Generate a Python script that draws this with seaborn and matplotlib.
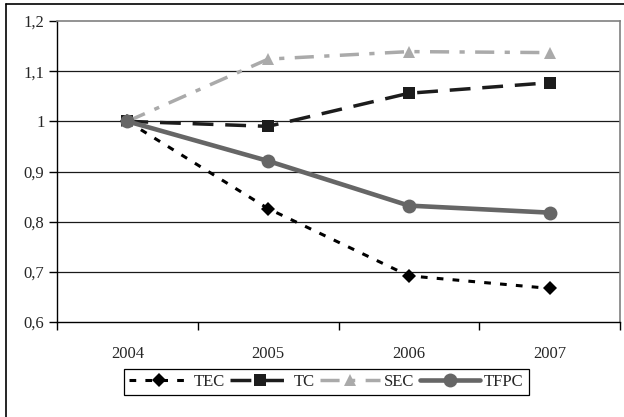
import matplotlib
matplotlib.use("Agg")
import matplotlib.pyplot as plt
from matplotlib.lines import Line2D
import seaborn as sns
import pandas as pd

years = [2004, 2005, 2006, 2007]
tec = [1.0, 0.826, 0.692, 0.667]
tc = [1.0, 0.990, 1.056, 1.077]
sec = [1.0, 1.124, 1.139, 1.137]
tfpc = [1.0, 0.921, 0.832, 0.818]
y_ticks = [0.6, 0.7, 0.8, 0.9, 1.0, 1.1, 1.2]
y_labels = ["0,6", "0,7", "0,8", "0,9", "1", "1,1", "1,2"]

sns.set_theme(style="white")
plt.rcParams['font.family'] = ['Liberation Serif', 'DejaVu Serif']
plt.rcParams['font.size'] = 12

W, H = 624, 417
fig = plt.figure(figsize=(W / 100, H / 100), dpi=100)
ax = fig.add_axes([57 / W, 1 - 322 / H, (620 - 57) / W, (322 - 21) / H])

# gridlines
for yv in y_ticks[1:-1]:
    ax.axhline(yv, color="#1a1a1a", lw=0.9, zorder=1)

series = [
    ("TEC", tec, dict(color="black", lw=2.2, dashes=(2.2, 3.0), marker="D", markersize=7)),
    ("TC", tc, dict(color="#1c1c1c", lw=2.5, dashes=(6.0, 3.4), marker="s", markersize=8)),
    ("SEC", sec, dict(color="#aaaaaa", lw=2.5, dashes=(5.5, 3.0, 1.5, 3.0), marker="^", markersize=9)),
    ("TFPC", tfpc, dict(color="#666666", lw=3.3, marker="o", markersize=10)),
]

for name, vals, st in series:
    df = pd.DataFrame({"year": years, "value": vals})
    sns.lineplot(data=df, x="year", y="value", ax=ax, label=name,
                 markeredgewidth=0, zorder=3, **st)

ax.set_xlim(2003.5, 2007.5)
ax.set_ylim(0.6, 1.2)
ax.set_xlabel("")
ax.set_ylabel("")

ax.set_yticks(y_ticks)
ax.set_yticklabels(y_labels)
ax.set_xticks([2003.5, 2004.5, 2005.5, 2006.5, 2007.5])
ax.set_xticklabels([])
ax.set_xticks(years, minor=True)
ax.set_xticklabels([str(y) for y in years], minor=True)
ax.tick_params(axis="x", which="major", direction="out", length=6, width=1, color="black", bottom=True)
ax.tick_params(axis="x", which="minor", length=0, pad=17, labelsize=12)
ax.tick_params(axis="y", direction="out", length=6, width=1, color="black", left=True, pad=3, labelsize=12)

for side in ["left", "bottom"]:
    ax.spines[side].set_color("black")
    ax.spines[side].set_linewidth(1.0)
for side in ["top", "right"]:
    ax.spines[side].set_visible(True)
    ax.spines[side].set_color("#808080")
    ax.spines[side].set_linewidth(1.2)

leg = ax.legend(loc="center", bbox_to_anchor=(326.5 / W, 1 - 381.5 / H),
                bbox_transform=fig.transFigure, ncol=4, frameon=True,
                fancybox=False, edgecolor="black", framealpha=1,
                handlelength=3.6, handletextpad=0.25, columnspacing=0.3,
                borderpad=0.3, fontsize=12)
leg.get_frame().set_linewidth(0.9)

# outer figure border (left and top visible, rest cropped)
x0 = 6 / W
y0 = 1 - 4 / H
fig.add_artist(Line2D([x0, x0], [0, y0], transform=fig.transFigure, color="black", lw=1.2))
fig.add_artist(Line2D([x0, 1], [y0, y0], transform=fig.transFigure, color="black", lw=1.2))

fig.savefig("out.png", dpi=100)
